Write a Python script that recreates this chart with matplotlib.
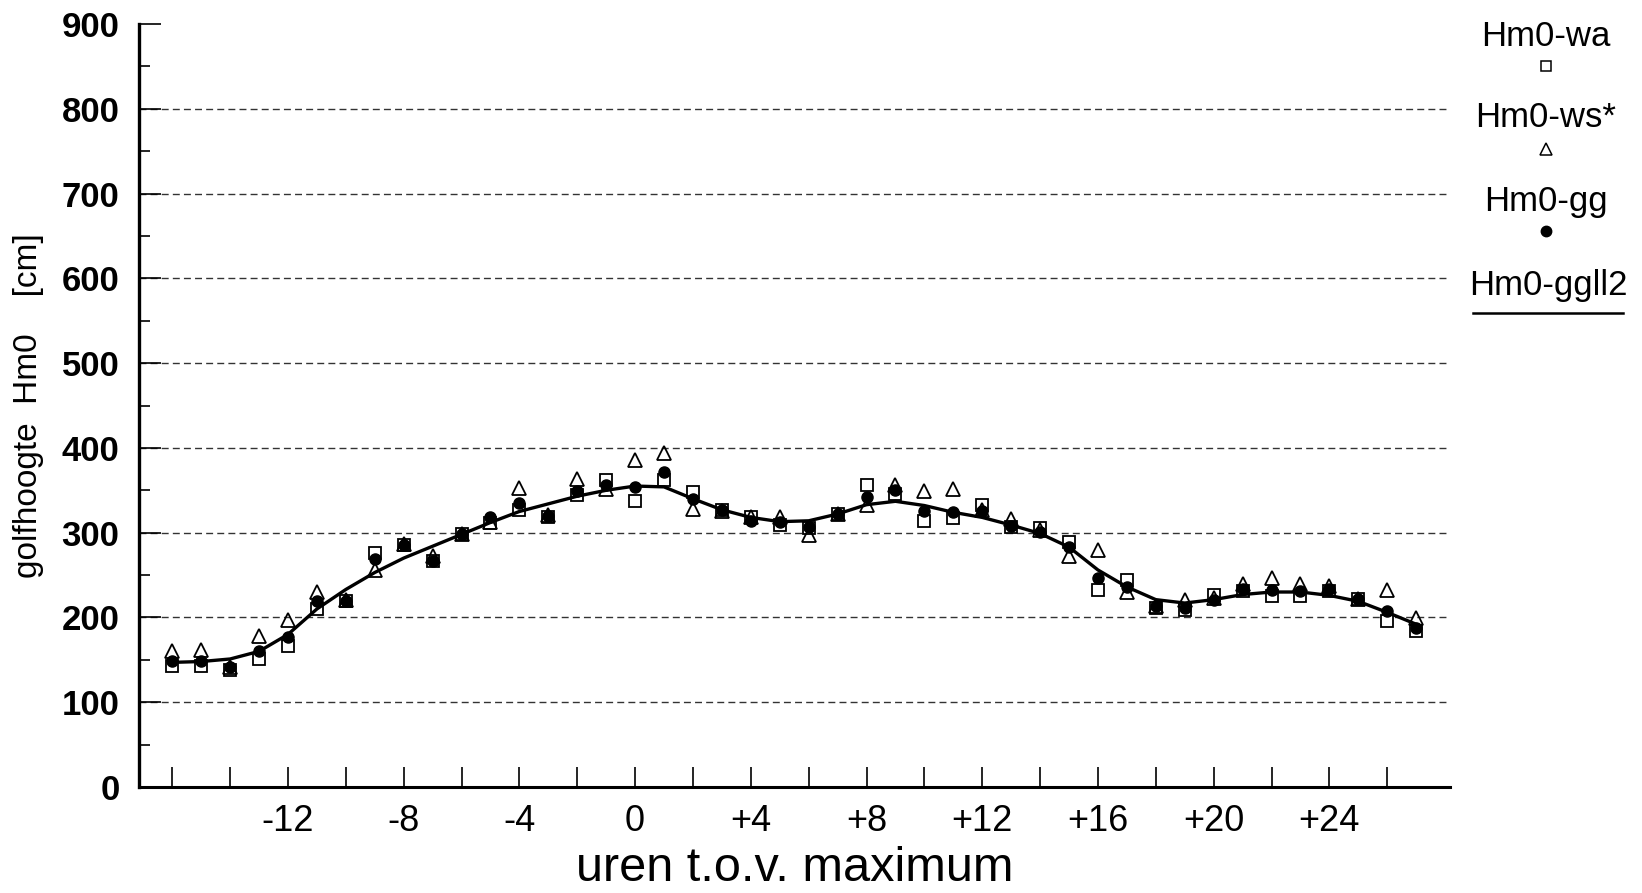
import matplotlib
matplotlib.use("Agg")
import matplotlib.pyplot as plt
from matplotlib.lines import Line2D
import numpy as np

plt.rcParams['font.family'] = ['Liberation Sans', 'DejaVu Sans']

# hours relative to the maximum
hours = list(range(-16, 28))

hm0_wa = [143, 143, 138, 151, 166, 210, 219, 276, 286, 267, 299, 311, 327, 318, 345, 362,
          337, 362, 348, 327, 318, 309, 305, 322, 356, 346, 314, 317, 333, 307, 305, 289,
          232, 244, 211, 209, 227, 231, 225, 225, 231, 222, 196, 184]
hm0_ws = [160, 162, 141, 178, 197, 230, 220, 256, 287, 272, 299, 312, 353, 321, 363, 351,
          386, 394, 328, 326, 318, 318, 297, 322, 333, 356, 349, 352, 327, 316, 303, 272,
          279, 230, 214, 221, 223, 240, 247, 239, 237, 222, 232, 199]
hm0_gg = [149, 149, 141, 160, 177, 219, 219, 269, 286, 267, 299, 318, 335, 320, 349, 356,
          354, 371, 340, 327, 314, 313, 307, 322, 342, 350, 326, 324, 326, 308, 301, 283,
          247, 236, 214, 211, 221, 234, 232, 231, 234, 222, 208, 187]
hm0_ggll2 = [147, 148, 151, 160, 180, 210, 233, 253, 270, 284, 298, 312, 325, 334, 343, 350,
             355, 354, 340, 327, 318, 313, 314, 322, 333, 337, 332, 324, 318, 309, 299, 283,
             256, 236, 221, 217, 221, 227, 230, 230, 226, 219, 206, 192]

x_ticks = list(range(-16, 27, 2))
x_label_ticks = [-12, -8, -4, 0, 4, 8, 12, 16, 20, 24]
grid_levels = [100, 200, 300, 400, 500, 600, 700, 800]

W, H = 1642, 893
fig = plt.figure(figsize=(W / 100, H / 100), dpi=100)
ax = fig.add_axes([139 / W, 1 - 787 / H, (1450 - 139) / W, (787 - 24) / H])

ax.set_xlim(-17.15, 28.17)
ax.set_ylim(0, 900)

for g in grid_levels:
    ax.axhline(g, color="#333333", lw=1.0, ls=(0, (5, 3)), zorder=1)

ax.plot(hours, hm0_wa, ls="none", marker="s", ms=8, mfc="white", mec="black", mew=1.3, zorder=3)
ax.plot(hours, hm0_ws, ls="none", marker="^", ms=9.5, mfc="none", mec="black", mew=1.3, zorder=3)
ax.plot(hours, hm0_gg, ls="none", marker="o", ms=8, mfc="black", mec="black", zorder=4)
ax.plot(hours, hm0_ggll2, color="black", lw=2.4, zorder=5)

for side in ["top", "right"]:
    ax.spines[side].set_visible(False)
ax.spines["left"].set_linewidth(2.4)
ax.spines["bottom"].set_linewidth(2.2)

ax.set_yticks(np.arange(0, 901, 100))
ax.set_yticks(np.arange(50, 900, 100), minor=True)
ax.tick_params(axis="y", which="major", direction="in", length=15.8, width=1.2,
               labelsize=25, pad=14)
ax.tick_params(axis="y", which="minor", direction="in", length=8, width=1.2)
for lbl in ax.get_yticklabels():
    lbl.set_fontweight("bold")

ax.set_xticks(x_ticks)
ax.set_xticklabels([("+%d" % t if t > 0 else "%d" % t) if t in x_label_ticks else "" for t in x_ticks])
ax.tick_params(axis="x", direction="in", length=14.4, width=1.2, labelsize=26, pad=12)

ax.set_xlabel("uren t.o.v. maximum", fontsize=35, labelpad=5)
ax.set_ylabel("golfhoogte  Hm0    [cm]", fontsize=24, labelpad=13)

# legend on the right, markers below the labels
def fx(px):
    return px / W

def fy(py):
    return 1 - py / H

leg = [("Hm0-wa", 37, 66, dict(marker="s", ms=7.5, mfc="white", mec="black", mew=1.1)),
       ("Hm0-ws*", 118, 149, dict(marker="^", ms=8.5, mfc="none", mec="black", mew=1.1)),
       ("Hm0-gg", 202, 231, dict(marker="o", ms=7.5, mfc="black", mec="black"))]
for name, ty, my, style in leg:
    fig.text(fx(1546), fy(ty), name, ha="center", va="center", fontsize=25)
    fig.add_artist(Line2D([fx(1546)], [fy(my)], ls="none", transform=fig.transFigure, **style))
fig.text(fx(1548), fy(285), "Hm0-ggll2", ha="center", va="center", fontsize=25)
fig.add_artist(Line2D([fx(1473), fx(1623)], [fy(313), fy(313)], color="black", lw=1.8,
                      transform=fig.transFigure))

fig.savefig("out.png", dpi=100)
